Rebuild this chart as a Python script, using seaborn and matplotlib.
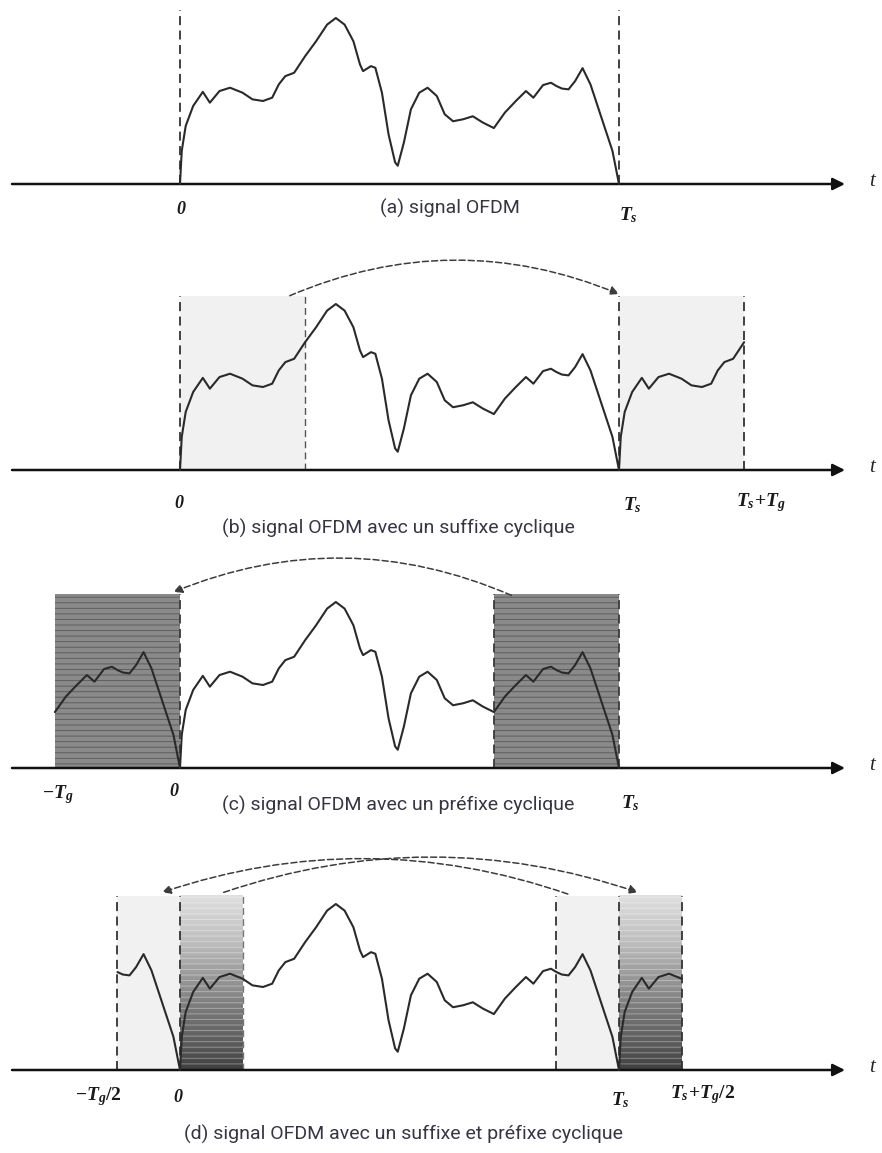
import numpy as np
import matplotlib
matplotlib.use('Agg')
import matplotlib.pyplot as plt
import seaborn as sns

# one period of the OFDM symbol (t in units of Ts, amplitude relative to the peak)
t_sig = [0.000, 0.004, 0.013, 0.030, 0.052, 0.068, 0.090, 0.114, 0.1425, 0.165,
         0.189, 0.210, 0.225, 0.240, 0.260, 0.285, 0.310, 0.335, 0.355, 0.375,
         0.395, 0.410, 0.417, 0.435, 0.445, 0.460, 0.475, 0.490, 0.496, 0.510,
         0.526, 0.545, 0.564, 0.585, 0.603, 0.622, 0.645, 0.667, 0.690, 0.715,
         0.740, 0.765, 0.788, 0.805, 0.827, 0.845, 0.8575, 0.870, 0.885, 0.900,
         0.917, 0.935, 0.960, 0.985, 1.000]
v_sig = [0.00, 0.20, 0.35, 0.47, 0.555, 0.49, 0.56, 0.58, 0.55, 0.51,
         0.50, 0.52, 0.60, 0.65, 0.67, 0.77, 0.86, 0.96, 1.00, 0.96,
         0.86, 0.72, 0.68, 0.71, 0.70, 0.55, 0.30, 0.13, 0.11, 0.25,
         0.45, 0.55, 0.58, 0.53, 0.42, 0.378, 0.39, 0.408, 0.37, 0.337,
         0.43, 0.50, 0.56, 0.52, 0.596, 0.61, 0.59, 0.575, 0.57, 0.62,
         0.698, 0.60, 0.40, 0.20, 0.00]

TS = 1.0      # symbol duration
TG = 0.285    # guard interval

captions = ['(a) signal OFDM',
            '(b) signal OFDM avec un suffixe cyclique',
            '(c) signal OFDM avec un préfixe cyclique',
            '(d) signal OFDM avec un suffixe et préfixe cyclique']

sns.set_theme(style='white')
plt.rcParams['mathtext.fontset'] = 'custom'
plt.rcParams['mathtext.it'] = 'Liberation Serif:italic:bold'
plt.rcParams['mathtext.rm'] = 'Liberation Serif:bold'
plt.rcParams['mathtext.bf'] = 'Liberation Serif:bold'
plt.rcParams['hatch.linewidth'] = 0.7

W, H = 882, 1153
UNIT = 166                       # pixels per amplitude unit
X0, XS = 180, 439                # pixel of t=0 and pixels per Ts
YLO, YHI = -0.6, 1.35
TOP = 1.05                       # height of the dashed markers / boxes
LIGHT = '#f1f1f1'
LINE = '#2a2a2a'
DASH = (0, (5, 3))
CAP_FONT = ['Roboto', 'DejaVu Sans']
LAB_FONT = {'family': 'Liberation Serif', 'style': 'italic', 'weight': 'bold'}

fig = plt.figure(figsize=(W / 100, H / 100), dpi=100)


def seg(lo, hi, shift=0.0):
    t = np.array(t_sig)
    v = np.array(v_sig)
    m = (t >= lo - 1e-6) & (t <= hi + 1e-6)
    return list(t[m] + shift), list(v[m])


def make_ax(base):
    bottom = (H - (base - YLO * UNIT)) / H
    height = (YHI - YLO) * UNIT / H
    ax = fig.add_axes([0, bottom, 1, height])
    ax.set_xlim(-X0 / XS, (W - X0) / XS)
    ax.set_ylim(YLO, YHI)
    ax.axis('off')
    ax.patch.set_alpha(0)
    # time axis with arrow
    ax.annotate('', xy=((845 - X0) / XS, 0), xytext=((12 - X0) / XS, 0),
                arrowprops=dict(arrowstyle='-|>', color='#111111', lw=1.8,
                                shrinkA=0, shrinkB=0, mutation_scale=18))
    fig.text(872 / W, 1 - (base - 2) / H, 't', fontsize=15,
             ha='center', va='center', family='Liberation Serif', style='italic')
    return ax


def draw_signal(ax, parts):
    x, y = [], []
    for p in parts:
        x += p[0]
        y += p[1]
    sns.lineplot(x=x, y=y, ax=ax, estimator=None, sort=False,
                 color=LINE, linewidth=1.5, zorder=3)


def vdash(ax, xs, color='#333333', lw=1.3):
    ax.vlines(xs, 0, TOP, colors=color, linestyles=[DASH], linewidth=lw, zorder=2)


def box(ax, lo, hi, kind):
    if kind == 'light':
        ax.fill_between([lo, hi], 0, TOP, color=LIGHT, linewidth=0, zorder=1)
    elif kind == 'dark':
        ax.fill_between([lo, hi], 0, TOP, facecolor='#8a8a8a', edgecolor='#5e5e5e',
                        hatch='---', linewidth=0, zorder=1)
    else:  # shaded box, lighter at the top
        grad = np.linspace(0.22, 0.8, 64)[:, None]
        ax.imshow(grad, extent=[lo, hi, 0, TOP], cmap='Greys', vmin=0, vmax=1,
                  aspect='auto', origin='upper', zorder=1, interpolation='bilinear')
        ax.fill_between([lo, hi], 0, TOP, facecolor='none', edgecolor='#ffffff',
                        hatch='---', linewidth=0, alpha=0.35, zorder=1)
        ax.set_xlim(-X0 / XS, (W - X0) / XS)
        ax.set_ylim(YLO, YHI)


def arc(ax, start, end, rad):
    ax.annotate('', xy=end, xytext=start,
                arrowprops=dict(arrowstyle='-|>', connectionstyle=f'arc3,rad={rad}',
                                linestyle=(0, (4, 2)), color='#3c3c3c', lw=1.1,
                                shrinkA=0, shrinkB=0, mutation_scale=13), zorder=4)


def label(xpx, ypx, s, size=14):
    fig.text(xpx / W, 1 - ypx / H, s, fontsize=size, ha='center', va='center',
             color='#1a1a1a', **LAB_FONT)


def caption(xpx, ypx, s):
    fig.text(xpx / W, 1 - ypx / H, s, fontsize=14, ha='center', va='center',
             color='#353545', family=CAP_FONT)


# (a) plain OFDM symbol
ax = make_ax(184)
vdash(ax, [0, TS])
draw_signal(ax, [seg(0, TS)])
label(181, 209, '0', 13)
label(628, 215, r'$T_s$')
caption(450, 208, captions[0])

# (b) cyclic suffix
ax = make_ax(470)
box(ax, 0, TG, 'light')
box(ax, TS, TS + TG, 'light')
vdash(ax, [0, TS, TS + TG])
vdash(ax, [TG], color='#555555', lw=1.0)
draw_signal(ax, [seg(0, TS), seg(0, TG, TS)])
arc(ax, (TG - 0.035, TOP), (TS, TOP + 0.01), -0.21)
label(179, 503, '0', 13)
label(632, 505, r'$T_s$')
label(761, 503, r'$T_s\!+\!T_g$')
caption(398, 528, captions[1])

# (c) cyclic prefix
ax = make_ax(768)
box(ax, -TG, 0, 'dark')
box(ax, TS - TG, TS, 'dark')
vdash(ax, [0, TS - TG, TS], color='#3a3a3a')
draw_signal(ax, [seg(TS - TG, TS, -TS), seg(0, TS)])
arc(ax, (TS - TG + 0.04, TOP - 0.01), (-0.015, TOP + 0.01), 0.21)
label(58, 795, r'$-T_g$')
label(174, 791, '0', 13)
label(630, 803, r'$T_s$')
caption(398, 805, captions[2])

# (d) cyclic prefix and suffix
ax = make_ax(1070)
box(ax, -TG / 2, 0, 'light')
box(ax, TS - TG / 2, TS, 'light')
box(ax, 0, TG / 2, 'shade')
box(ax, TS, TS + TG / 2, 'shade')
vdash(ax, [-TG / 2, 0, TS - TG / 2, TS, TS + TG / 2])
vdash(ax, [TG / 2], color='#777777', lw=1.0)
draw_signal(ax, [seg(TS - TG / 2, TS, -TS), seg(0, TS), seg(0, TG / 2, TS)])
arc(ax, (TS - TG / 2 + 0.026, TOP + 0.01), (-0.041, TOP + 0.02), 0.17)
arc(ax, (TG / 2 - 0.043, TOP + 0.02), (TS + 0.043, TOP + 0.02), -0.17)
label(98, 1097, r'$-T_g/2$')
label(178, 1097, '0', 13)
label(620, 1100, r'$T_s$')
label(703, 1095, r'$T_s\!+\!T_g/2$')
caption(403, 1134, captions[3])

fig.savefig('out.png', dpi=100)
